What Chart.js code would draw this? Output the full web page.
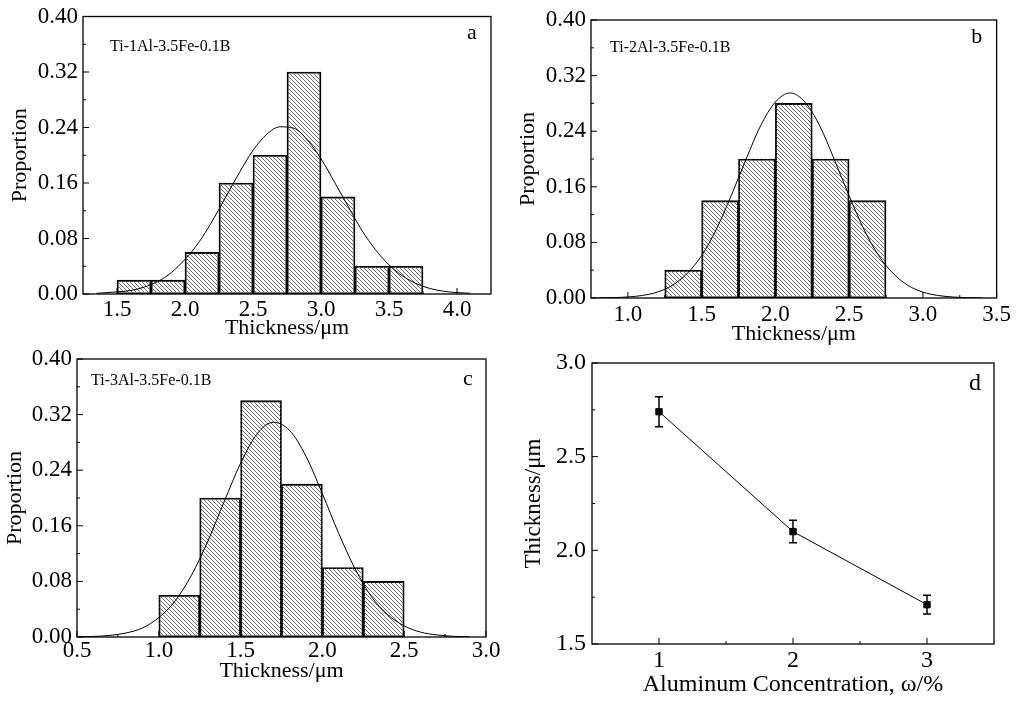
<!DOCTYPE html>
<html>
<head>
<meta charset="utf-8">
<title>Thickness distributions</title>
<script src="https://cdn.jsdelivr.net/npm/chart.js@4.4.0/dist/chart.umd.min.js"></script>
<style>
  html, body { margin: 0; padding: 0; background: #fff; }
  #wrap { position: relative; width: 1016px; height: 702px; overflow: hidden; }
  #wrap canvas { position: absolute; left: 0; top: 0; }
</style>
</head>
<body>
<div id="wrap">
  <canvas id="chartA" width="1016" height="702"></canvas>
  <canvas id="chartB" width="1016" height="702"></canvas>
  <canvas id="chartC" width="1016" height="702"></canvas>
  <canvas id="chartD" width="1016" height="702"></canvas>
</div>
<script>
// ---- datos ----
// (a) Ti-1Al-3.5Fe-0.1B : centros de los intervalos y proporciones
const binsA = [1.625, 1.875, 2.125, 2.375, 2.625, 2.875, 3.125, 3.375, 3.625];
const propA = [0.02, 0.02, 0.06, 0.16, 0.20, 0.32, 0.14, 0.04, 0.04];
const fitXA = [1.35, 1.5, 1.6, 1.7, 1.8, 1.9, 2.0, 2.1, 2.2, 2.3, 2.4, 2.5, 2.6, 2.7, 2.8, 2.9, 3.0, 3.1, 3.2, 3.3, 3.4, 3.5, 3.6, 3.7, 3.8, 3.9, 4.0, 4.1];
const fitYA = [0.001, 0.003, 0.005, 0.010, 0.018, 0.031, 0.050, 0.074, 0.105, 0.140, 0.175, 0.207, 0.230, 0.241, 0.239, 0.222, 0.195, 0.161, 0.126, 0.092, 0.064, 0.042, 0.026, 0.015, 0.008, 0.004, 0.002, 0.001];
const xTicksA = [1.5, 2.0, 2.5, 3.0, 3.5, 4.0];

// (b) Ti-2Al-3.5Fe-0.1B
const binsB = [1.375, 1.625, 1.875, 2.125, 2.375, 2.625];
const propB = [0.04, 0.14, 0.20, 0.28, 0.20, 0.14];
const fitXB = [0.8, 0.9, 1.0, 1.1, 1.2, 1.3, 1.4, 1.5, 1.6, 1.7, 1.8, 1.9, 2.0, 2.1, 2.2, 2.3, 2.4, 2.5, 2.6, 2.7, 2.8, 2.9, 3.0, 3.1, 3.2, 3.3, 3.4];
const fitYB = [0.0002, 0.0005, 0.0015, 0.0037, 0.0085, 0.018, 0.035, 0.061, 0.099, 0.147, 0.199, 0.248, 0.282, 0.295, 0.282, 0.248, 0.199, 0.147, 0.099, 0.061, 0.035, 0.018, 0.0085, 0.0037, 0.0015, 0.0005, 0.0002];
const xTicksB = [1.0, 1.5, 2.0, 2.5, 3.0, 3.5];

// (c) Ti-3Al-3.5Fe-0.1B
const binsC = [1.125, 1.375, 1.625, 1.875, 2.125, 2.375];
const propC = [0.06, 0.20, 0.34, 0.22, 0.10, 0.08];
const fitXC = [0.5, 0.6, 0.7, 0.8, 0.9, 1.0, 1.1, 1.2, 1.3, 1.4, 1.5, 1.6, 1.7, 1.8, 1.9, 2.0, 2.1, 2.2, 2.3, 2.4, 2.5, 2.6, 2.7, 2.8, 2.9];
const fitYC = [0.0003, 0.0008, 0.0023, 0.0058, 0.013, 0.028, 0.052, 0.089, 0.138, 0.195, 0.250, 0.292, 0.309, 0.297, 0.260, 0.206, 0.149, 0.098, 0.058, 0.032, 0.016, 0.007, 0.003, 0.001, 0.0003];
const xTicksC = [0.5, 1.0, 1.5, 2.0, 2.5, 3.0];

const yTicksHist = [0.00, 0.08, 0.16, 0.24, 0.32, 0.40];

// (d) espesor medio frente a concentracion de Al
const alConc = [1, 2, 3];
const thickMean = [2.74, 2.10, 1.71];
const thickErr = [0.08, 0.06, 0.05];
const xTicksD = [1, 2, 3];
const yTicksD = [1.5, 2.0, 2.5, 3.0];

const FONT = "'Liberation Serif', 'Times New Roman', serif";

// Patron de rayado diagonal para las barras
function makeHatch() {
    const s = 4;
    const c = document.createElement('canvas');
    c.width = s; c.height = s;
    const g = c.getContext('2d');
    g.strokeStyle = '#707070';
    g.lineWidth = 1;
    g.beginPath();
    g.moveTo(-1, -1); g.lineTo(s + 1, s + 1);
    g.moveTo(s - 1, -1); g.lineTo(s + 1, 1);
    g.moveTo(-1, s - 1); g.lineTo(1, s + 1);
    g.stroke();
    return g.createPattern(c, 'repeat');
}
const hatch = makeHatch();

// Marco completo y marcas hacia dentro (mayores y menores)
const frameTicks = {
    id: 'frameTicks',
    afterDatasetsDraw(chart) {
        const { ctx, chartArea: a, scales } = chart;
        ctx.save();
        ctx.strokeStyle = '#000';
        ctx.lineWidth = 1.3;
        ctx.strokeRect(a.left, a.top, a.right - a.left, a.bottom - a.top);
        ctx.lineWidth = 1;
        ['x', 'y'].forEach(id => {
            const s = scales[id];
            const vals = s.ticks.map(t => t.value);
            const step = vals[1] - vals[0];
            const marks = vals.map(v => [v, 6]);
            for (let v = vals[0] - step / 2; v < s.max; v += step) {
                if (v > s.min + 1e-9 && v < s.max - 1e-9) marks.push([v, 3]);
            }
            ctx.beginPath();
            marks.forEach(([v, len]) => {
                const p = s.getPixelForValue(v);
                if (id === 'x') { ctx.moveTo(p, a.bottom); ctx.lineTo(p, a.bottom - len); }
                else { ctx.moveTo(a.left, p); ctx.lineTo(a.left + len, p); }
            });
            ctx.stroke();
        });
        ctx.restore();
    }
};

// Texto de la aleacion y letra del panel
function panelLabels(text, tx, ty, letter, lx, ly, letterSize) {
    return {
        id: 'panelLabels',
        afterDraw(chart) {
            const { ctx, chartArea: a } = chart;
            ctx.save();
            ctx.fillStyle = '#000';
            ctx.textBaseline = 'alphabetic';
            if (text) {
                ctx.font = '16px ' + FONT;
                ctx.textAlign = 'left';
                ctx.fillText(text, a.left + tx, a.top + ty);
            }
            ctx.font = letterSize + 'px ' + FONT;
            ctx.textAlign = 'center';
            ctx.fillText(letter, a.right - lx, a.top + ly);
            ctx.restore();
        }
    };
}

function xAxis(min, max, tickVals, dec, pad, height, title, tSize, titleSize, titlePad) {
    return {
        type: 'linear', position: 'bottom', min: min, max: max, offset: false,
        afterBuildTicks: s => { s.ticks = tickVals.map(v => ({ value: v })); },
        afterFit: s => { s.height = height; },
        grid: { display: false, drawTicks: false },
        border: { display: false },
        ticks: {
            color: '#000', padding: pad, maxRotation: 0, autoSkip: false,
            font: { family: FONT, size: tSize, lineHeight: 1 },
            callback: v => Number(v).toFixed(dec)
        },
        title: {
            display: true, text: title, color: '#000',
            font: { family: FONT, size: titleSize, lineHeight: 1 },
            padding: { top: 0, bottom: titlePad }
        }
    };
}

function yAxis(min, max, tickVals, dec, pad, width, title, tSize, titleSize, titlePad) {
    return {
        type: 'linear', position: 'left', min: min, max: max,
        afterBuildTicks: s => { s.ticks = tickVals.map(v => ({ value: v })); },
        afterFit: s => { s.width = width; },
        grid: { display: false, drawTicks: false },
        border: { display: false },
        ticks: {
            color: '#000', padding: pad, autoSkip: false,
            font: { family: FONT, size: tSize, lineHeight: 1 },
            callback: v => Number(v).toFixed(dec)
        },
        title: {
            display: true, text: title, color: '#000',
            font: { family: FONT, size: titleSize, lineHeight: 1 },
            padding: { top: titlePad, bottom: 0 }
        }
    };
}

function histChart(id, bins, props, fitX, fitY, xMin, xMax, xTicks, layout, labels) {
    return new Chart(document.getElementById(id), {
        type: 'bar',
        data: {
            datasets: [{
                type: 'line',
                data: fitX.map((x, i) => ({ x: x, y: fitY[i] })),
                borderColor: '#000',
                borderWidth: 1,
                pointRadius: 0,
                cubicInterpolationMode: 'monotone',
                fill: false,
                order: 1
            }, {
                type: 'bar',
                data: bins.map((x, i) => ({ x: x, y: props[i] })),
                backgroundColor: hatch,
                borderColor: '#000',
                borderWidth: 1.2,
                borderSkipped: false,
                barPercentage: 1,
                categoryPercentage: 1,
                order: 2
            }]
        },
        options: {
            responsive: false,
            animation: false,
            layout: { padding: layout.padding },
            scales: {
                x: xAxis(xMin, xMax, xTicks, 1, layout.xPad, layout.xH, 'Thickness/\u03bcm', 23, 22, 1),
                y: yAxis(0, 0.40, yTicksHist, 2, 5, layout.yW, 'Proportion', 23, 22, layout.yTitlePad)
            },
            plugins: { legend: { display: false }, tooltip: { enabled: false } }
        },
        plugins: [frameTicks, labels]
    });
}

histChart('chartA', binsA, propA, fitXA, fitYA, 1.25, 4.25, xTicksA,
    { padding: { left: 0, top: 15, right: 525, bottom: 362 }, xPad: 4, xH: 46, yW: 83, yTitlePad: 9 },
    panelLabels('Ti-1Al-3.5Fe-0.1B', 27, 34, 'a', 19, 22, 22));

histChart('chartB', binsB, propB, fitXB, fitYB, 0.75, 3.5, xTicksB,
    { padding: { left: 500, top: 20, right: 17, bottom: 356 }, xPad: 5, xH: 48, yW: 91, yTitlePad: 17 },
    panelLabels('Ti-2Al-3.5Fe-0.1B', 19, 32, 'b', 20, 23, 22));

histChart('chartC', binsC, propC, fitXC, fitYC, 0.5, 3.0, xTicksC,
    { padding: { left: 0, top: 359, right: 530, bottom: 19 }, xPad: 2, xH: 46, yW: 77, yTitlePad: 4 },
    panelLabels('Ti-3Al-3.5Fe-0.1B', 14, 26, 'c', 18, 26, 22));

// (d) barras de error dibujadas con las escalas del grafico
const errorBars = {
    id: 'errorBars',
    afterDatasetsDraw(chart) {
        const { ctx, scales: { x, y } } = chart;
        ctx.save();
        ctx.strokeStyle = '#000';
        ctx.lineWidth = 1.5;
        ctx.beginPath();
        alConc.forEach((c, i) => {
            const px = x.getPixelForValue(c);
            const top = y.getPixelForValue(thickMean[i] + thickErr[i]);
            const bot = y.getPixelForValue(thickMean[i] - thickErr[i]);
            ctx.moveTo(px, top); ctx.lineTo(px, bot);
            ctx.moveTo(px - 4, top); ctx.lineTo(px + 4, top);
            ctx.moveTo(px - 4, bot); ctx.lineTo(px + 4, bot);
        });
        ctx.stroke();
        ctx.restore();
    }
};

new Chart(document.getElementById('chartD'), {
    type: 'line',
    data: {
        datasets: [{
            data: alConc.map((c, i) => ({ x: c, y: thickMean[i] })),
            borderColor: '#000',
            borderWidth: 1,
            backgroundColor: '#000',
            pointStyle: 'rect',
            pointRadius: 4.5,
            pointBorderWidth: 1,
            tension: 0,
            fill: false
        }]
    },
    options: {
        responsive: false,
        animation: false,
        layout: { padding: { left: 500, top: 363, right: 22, bottom: 0 } },
        scales: {
            x: xAxis(0.5, 3.5, xTicksD, 0, 5, 58, 'Aluminum Concentration, \u03c9/%', 24, 24, 5),
            y: yAxis(1.5, 3.0, yTicksD, 1, 6, 92, 'Thickness/\u03bcm', 24, 23, 22)
        },
        plugins: { legend: { display: false }, tooltip: { enabled: false } }
    },
    plugins: [frameTicks, errorBars, panelLabels('', 0, 0, 'd', 19, 27, 24)]
});
</script>
</body>
</html>
